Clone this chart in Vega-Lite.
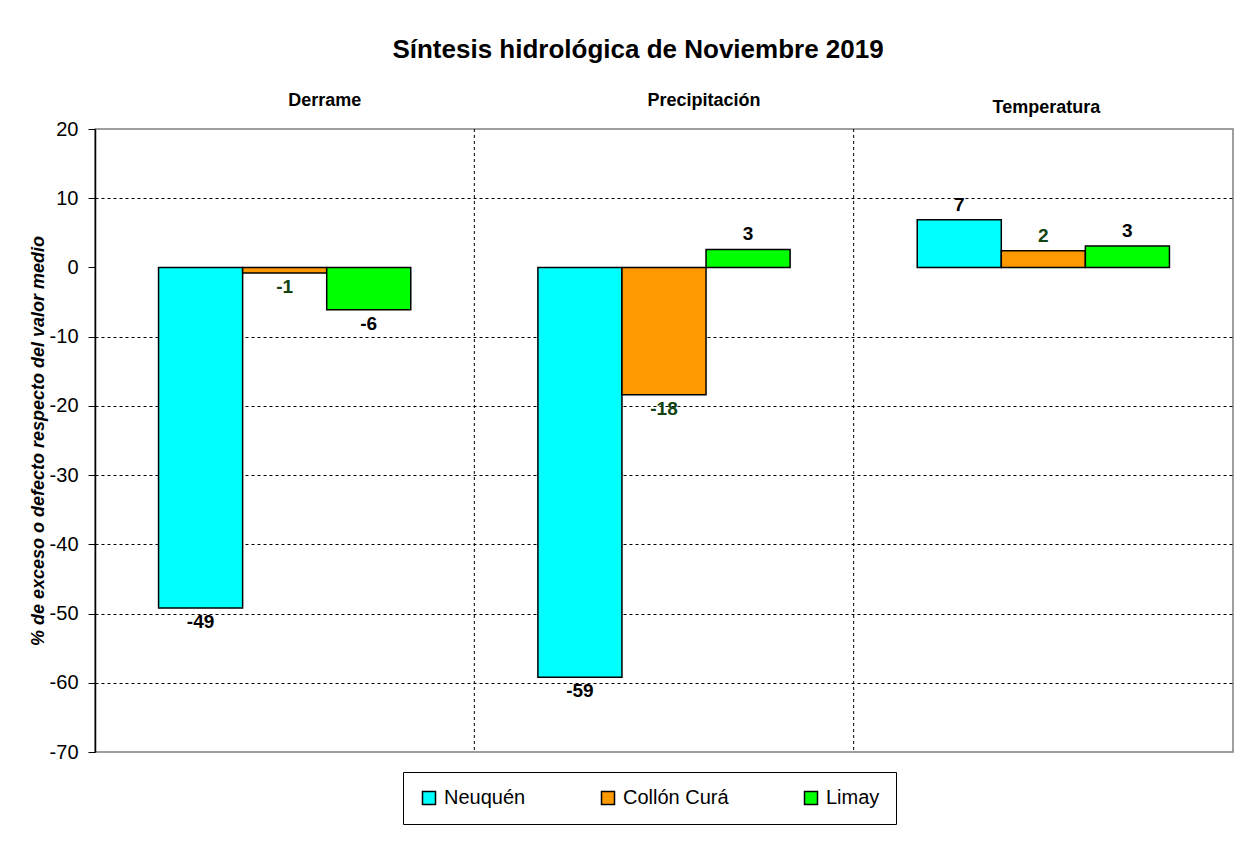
{
  "$schema": "https://vega.github.io/schema/vega-lite/v6.json",
  "width": 1138,
  "height": 623,
  "autosize": {"type": "none"},
  "padding": {"left": 95, "top": 129, "right": 19, "bottom": 100},
  "background": "white",
  "config": {
    "font": "Liberation Sans",
    "view": {"stroke": "#808080", "strokeWidth": 1.5},
    "locale": {"number": {"decimal": ".", "thousands": ",", "grouping": [3], "currency": ["$", ""], "minus": "-"}}
  },
  "title": {
    "text": "Síntesis hidrológica de Noviembre 2019",
    "fontSize": 26,
    "fontWeight": "bold",
    "color": "black",
    "anchor": "middle",
    "frame": "bounds",
    "offset": 28,
    "dx": 7
  },
  "data": {
    "values": [
      {"category": "Derrame", "series": "Neuquén", "value": -49.2},
      {"category": "Derrame", "series": "Collón Curá", "value": -0.8},
      {"category": "Derrame", "series": "Limay", "value": -6.1},
      {"category": "Precipitación", "series": "Neuquén", "value": -59.2},
      {"category": "Precipitación", "series": "Collón Curá", "value": -18.4},
      {"category": "Precipitación", "series": "Limay", "value": 2.6},
      {"category": "Temperatura", "series": "Neuquén", "value": 6.9},
      {"category": "Temperatura", "series": "Collón Curá", "value": 2.4},
      {"category": "Temperatura", "series": "Limay", "value": 3.1}
    ]
  },
  "encoding": {
    "x": {
      "field": "category",
      "type": "nominal",
      "sort": ["Derrame", "Precipitación", "Temperatura"],
      "scale": {"domain": ["Derrame", "Precipitación", "Temperatura"], "paddingInner": 0, "paddingOuter": 0},
      "axis": {
        "orient": "top",
        "title": null,
        "labelAngle": 0,
        "ticks": false,
        "tickSize": 0,
        "domain": false,
        "grid": false,
        "labelFontSize": 18,
        "labelFontWeight": "bold",
        "labelColor": "black",
        "labelPadding": {"condition": {"test": "datum.value === 'Temperatura'", "value": 13}, "value": 20},
        "labelOffset": {"condition": {"test": "datum.value === 'Temperatura'", "value": 3}, "value": 40}
      }
    }
  },
  "layer": [
    {
      "data": {"values": [{"category": "Precipitación"}, {"category": "Temperatura"}]},
      "mark": {"type": "rule", "color": "black", "strokeDash": [3, 3], "strokeWidth": 1},
      "encoding": {
        "x": {
          "field": "category",
          "type": "nominal",
          "bandPosition": 0,
          "sort": ["Derrame", "Precipitación", "Temperatura"],
          "scale": {"domain": ["Derrame", "Precipitación", "Temperatura"], "paddingInner": 0, "paddingOuter": 0},
          "axis": {
            "orient": "top",
            "title": null,
            "labelAngle": 0,
            "ticks": false,
            "tickSize": 0,
            "domain": false,
            "grid": false,
            "labelFontSize": 18,
            "labelFontWeight": "bold",
            "labelColor": "black",
            "labelPadding": {"condition": {"test": "datum.value === 'Temperatura'", "value": 13}, "value": 20},
            "labelOffset": {"condition": {"test": "datum.value === 'Temperatura'", "value": 3}, "value": 40}
          }
        }
      }
    },
    {
      "mark": {"type": "bar", "stroke": "black", "strokeWidth": 1.5},
      "encoding": {
        "xOffset": {
          "field": "series",
          "type": "nominal",
          "sort": ["Neuquén", "Collón Curá", "Limay"],
          "scale": {"paddingInner": 0, "paddingOuter": 0.756}
        },
        "y": {
          "field": "value",
          "type": "quantitative",
          "scale": {"domain": [-70, 20], "nice": false, "zero": false},
          "axis": {
            "values": [-70, -60, -50, -40, -30, -20, -10, 0, 10, 20],
            "title": "% de exceso o defecto respecto del valor medio",
            "titleFontSize": 18,
            "titleFontWeight": "bold",
            "titleFontStyle": "italic",
            "titleColor": "black",
            "titlePadding": 2,
            "labelFontSize": 20,
            "labelColor": "black",
            "labelPadding": 10,
            "tickSize": 7,
            "tickColor": "black",
            "domainColor": "black",
            "domainWidth": 1.5,
            "grid": true,
            "gridColor": "black",
            "gridDash": [3, 3],
            "gridWidth": 1,
            "gridOpacity": {"condition": {"test": "datum.value == 20 || datum.value == -70 || datum.value == 0", "value": 0}, "value": 1}
          }
        },
        "color": {
          "field": "series",
          "type": "nominal",
          "sort": ["Neuquén", "Collón Curá", "Limay"],
          "scale": {"domain": ["Neuquén", "Collón Curá", "Limay"], "range": ["#00FFFF", "#FF9900", "#00FF00"]},
          "legend": {
            "orient": "none",
            "legendX": 308,
            "legendY": 643,
            "direction": "horizontal",
            "title": null,
            "strokeColor": "black",
            "fillColor": "white",
            "padding": 16,
            "columnPadding": 72,
            "symbolType": "square",
            "symbolSize": 169,
            "symbolStrokeColor": "black",
            "symbolStrokeWidth": 1.5,
            "symbolOpacity": 1,
            "labelFontSize": 20,
            "labelColor": "black",
            "labelOffset": 5
          }
        }
      }
    },
    {
      "mark": {"type": "rule", "color": "#808080", "strokeWidth": 1.5},
      "encoding": {"y": {"datum": 0}}
    },
    {
      "transform": [{"filter": "datum.value < 0"}],
      "mark": {"type": "text", "baseline": "top", "dy": 5, "fontSize": 19, "fontWeight": "bold"},
      "encoding": {
        "xOffset": {"field": "series", "type": "nominal", "sort": ["Neuquén", "Collón Curá", "Limay"], "scale": {"paddingInner": 0, "paddingOuter": 0.756}},
        "y": {"field": "value", "type": "quantitative"},
        "text": {"field": "value", "type": "quantitative", "format": ".0f"},
        "color": {"condition": {"test": "datum.series === 'Collón Curá'", "value": "#124412"}, "value": "black"}
      }
    },
    {
      "transform": [{"filter": "datum.value >= 0"}],
      "mark": {"type": "text", "baseline": "bottom", "dy": -5, "fontSize": 19, "fontWeight": "bold"},
      "encoding": {
        "xOffset": {"field": "series", "type": "nominal", "sort": ["Neuquén", "Collón Curá", "Limay"], "scale": {"paddingInner": 0, "paddingOuter": 0.756}},
        "y": {"field": "value", "type": "quantitative"},
        "text": {"field": "value", "type": "quantitative", "format": ".0f"},
        "color": {"condition": {"test": "datum.series === 'Collón Curá'", "value": "#124412"}, "value": "black"}
      }
    }
  ]
}
